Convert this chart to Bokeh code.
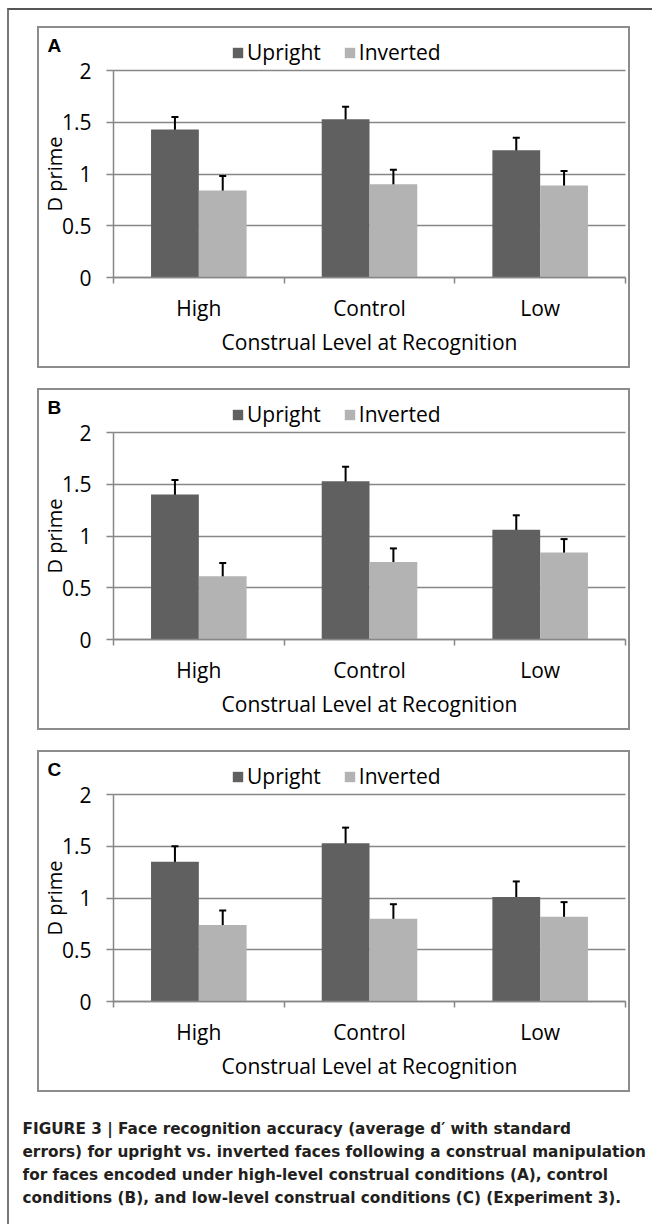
from bokeh.plotting import figure
from bokeh.models import (Range1d, FixedTicker, Whisker, TeeHead, ColumnDataSource,
                          Legend, LegendItem, Label, NumeralTickFormatter)
from bokeh.layouts import column
from bokeh.embed import file_html
from bokeh.resources import INLINE

# ---------------- data ----------------
categories = ["High", "Control", "Low"]
series = ["Upright", "Inverted"]
panel_letters = ["A", "B", "C"]
y_ticks = [0, 0.5, 1, 1.5, 2]

upright_A = [1.43, 1.53, 1.23]
upright_A_err = [0.12, 0.12, 0.12]
inverted_A = [0.84, 0.90, 0.89]
inverted_A_err = [0.14, 0.14, 0.14]

upright_B = [1.40, 1.53, 1.06]
upright_B_err = [0.14, 0.14, 0.14]
inverted_B = [0.61, 0.75, 0.84]
inverted_B_err = [0.13, 0.13, 0.13]

upright_C = [1.35, 1.53, 1.01]
upright_C_err = [0.15, 0.15, 0.15]
inverted_C = [0.74, 0.80, 0.82]
inverted_C_err = [0.14, 0.14, 0.14]

x_title = "Construal Level at Recognition"
y_title = "D prime"
caption_lines = [
    "FIGURE 3 | Face recognition accuracy (average d\u2032 with standard",
    "errors) for upright vs. inverted faces following a construal manipulation",
    "for faces encoded under high-level construal conditions (A), control",
    "conditions (B), and low-level construal conditions (C) (Experiment 3).",
]

# ---------------- style / geometry ----------------
UP_COLOR = "#606060"
INV_COLOR = "#b3b3b3"
GRID_COLOR = "#878787"
BAR_W = 0.28
FONT = "Open Sans"
FS = "21px"

W, H = 589, 338            # canvas of one panel (inside its grey box)
PLOT_L, PLOT_R = 74, 3     # px from canvas edges to the value axes
PLOT_T, PLOT_B = 42, 89


def make_panel(letter, up, up_err, inv, inv_err):
    n = len(categories)
    y_max = y_ticks[-1]
    px_x = (W - PLOT_L - PLOT_R) / n
    px_y = (H - PLOT_T - PLOT_B) / y_max
    x_range = Range1d(-PLOT_L / px_x, n + PLOT_R / px_x)
    y_range = Range1d(-PLOT_B / px_y, y_max + PLOT_T / px_y)

    p = figure(width=W, height=H, x_range=x_range, y_range=y_range,
               output_backend="svg", toolbar_location=None, min_border=0,
               outline_line_color=None,
               background_fill_color="white", border_fill_color="white")

    centers = [i + 0.5 for i in range(n)]
    data = [(series[0], up, up_err, UP_COLOR, -BAR_W / 2),
            (series[1], inv, inv_err, INV_COLOR, BAR_W / 2)]
    items = []
    for name, vals, errs, color, off in data:
        src = ColumnDataSource(dict(
            x=[c + off for c in centers], top=vals,
            upper=[v + e for v, e in zip(vals, errs)],
            lower=[v - e for v, e in zip(vals, errs)]))
        r = p.vbar(x="x", top="top", bottom=0, width=BAR_W, source=src,
                   fill_color=color, line_color=None)
        w = Whisker(source=src, base="x", upper="upper", lower="lower",
                    line_color="black", line_width=2,
                    upper_head=TeeHead(size=7, line_width=2, line_color="black"),
                    lower_head=TeeHead(size=7, line_width=2, line_color="black"))
        p.add_layout(w)
        items.append(LegendItem(label=name, renderers=[r]))

    # x axis: labels at category centres, ticks at category boundaries
    xa = p.xaxis[0]
    xa.fixed_location = 0
    xa.bounds = (0, n)
    xa.ticker = FixedTicker(ticks=centers, minor_ticks=list(range(n + 1)))
    xa.major_label_overrides = {c: cat for c, cat in zip(centers, categories)}
    xa.major_tick_out = 0
    xa.major_tick_in = 0
    xa.minor_tick_out = 6
    xa.minor_tick_in = 0
    xa.minor_tick_line_color = GRID_COLOR
    xa.minor_tick_line_width = 1.5
    xa.axis_line_color = GRID_COLOR
    xa.axis_line_width = 1.5
    xa.major_label_text_font = FONT
    xa.major_label_text_font_size = FS
    xa.major_label_text_color = "black"
    xa.major_label_standoff = 10
    xa.axis_label = x_title
    xa.axis_label_text_font = FONT
    xa.axis_label_text_font_size = FS
    xa.axis_label_text_font_style = "normal"
    xa.axis_label_text_color = "black"
    xa.axis_label_standoff = 3

    ya = p.yaxis[0]
    ya.fixed_location = 0
    ya.bounds = (0, y_max)
    ya.ticker = FixedTicker(ticks=y_ticks, minor_ticks=[])
    ya.formatter = NumeralTickFormatter(format="0.[0]")
    ya.major_tick_out = 7
    ya.major_tick_in = 0
    ya.major_tick_line_color = GRID_COLOR
    ya.major_tick_line_width = 1.5
    ya.axis_line_color = GRID_COLOR
    ya.axis_line_width = 1.5
    ya.major_label_text_font = FONT
    ya.major_label_text_font_size = FS
    ya.major_label_text_color = "black"
    ya.major_label_standoff = 15
    ya.axis_label = y_title
    ya.axis_label_text_font = FONT
    ya.axis_label_text_font_size = "20px"
    ya.axis_label_text_font_style = "normal"
    ya.axis_label_text_color = "black"
    ya.axis_label_standoff = -9

    p.xgrid.visible = False
    g = p.ygrid[0]
    g.ticker = FixedTicker(ticks=y_ticks, minor_ticks=[])
    if "cross_bounds" in g.properties():
        g.cross_bounds = (0, n)
        g.grid_line_color = GRID_COLOR
        g.grid_line_width = 1.5
    else:
        g.visible = False
        p.segment(x0=0, x1=n, y0=y_ticks[1:], y1=y_ticks[1:],
                  line_color=GRID_COLOR, line_width=1.5, level="underlay")

    legend = Legend(items=items, orientation="horizontal", location=(192, 300),
                    border_line_color=None, background_fill_alpha=0,
                    glyph_width=13, glyph_height=13, label_standoff=3,
                    spacing=22, padding=0, margin=0,
                    label_text_font=FONT, label_text_font_size=FS,
                    label_text_color="black")
    p.add_layout(legend)

    p.add_layout(Label(x=8, y=321, x_units="screen", y_units="screen",
                       text=letter, text_font="Liberation Sans",
                       text_font_style="bold", text_font_size="19px",
                       text_baseline="middle", text_align="left",
                       text_color="black"))
    return column(p, styles={"border": "2px solid #8c8c8c"})


panels = []
for letter, up, ue, inv, ie in [
        (panel_letters[0], upright_A, upright_A_err, inverted_A, inverted_A_err),
        (panel_letters[1], upright_B, upright_B_err, inverted_B, inverted_B_err),
        (panel_letters[2], upright_C, upright_C_err, inverted_C, inverted_C_err)]:
    panels.append(make_panel(letter, up, ue, inv, ie))

panels[0].margin = (16, 0, 0, 28)
panels[1].margin = (20, 0, 0, 28)
panels[2].margin = (20, 0, 0, 28)

CAP_H = 124
cap = figure(width=630, height=CAP_H, x_range=Range1d(0, 1), y_range=Range1d(0, 1),
             output_backend="svg", toolbar_location=None,
             x_axis_location=None, y_axis_location=None,
             min_border=0, outline_line_color=None,
             background_fill_color="white", border_fill_color="white")
cap.grid.visible = False
for i, line in enumerate(caption_lines):
    cap.add_layout(Label(x=0, y=CAP_H - 28 - 23 * i, x_units="screen", y_units="screen",
                         text=line, text_font="DejaVu Sans", text_font_style="bold",
                         text_font_size="15.3px", text_baseline="middle",
                         text_align="left", text_color="#231f20"))
cap.margin = (8, 0, 0, 13)

page = column(*panels, cap, margin=(8, 0, 0, 7),
              styles={"border-top": "2px solid #555555", "border-left": "2px solid #777777"})

open("out.html", "w").write(file_html(page, INLINE))
